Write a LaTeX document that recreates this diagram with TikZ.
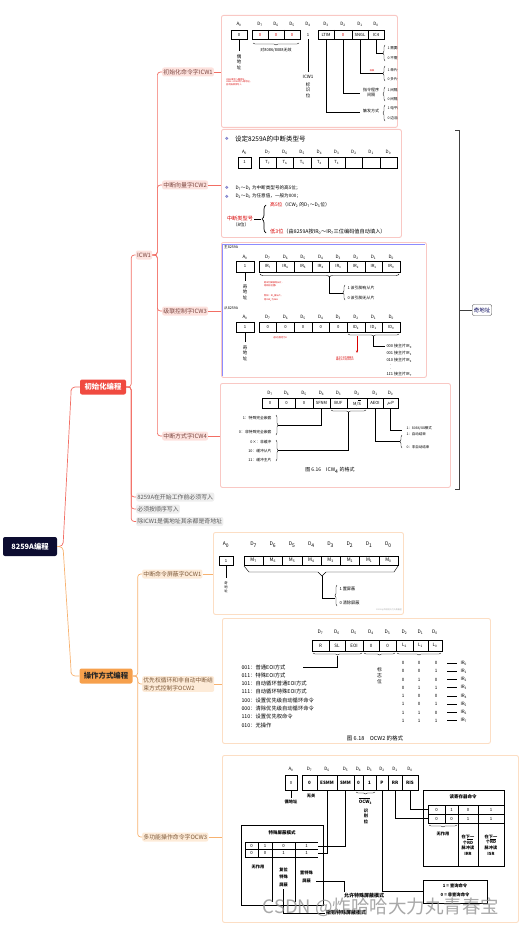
\documentclass[tikz,border=0pt]{standalone}
\usepackage{fontspec}
\setmainfont{Noto Sans CJK SC}
\newfontfamily\symfont{DejaVu Sans}
\usetikzlibrary{positioning,arrows.meta,decorations.pathreplacing}
\definecolor{cnavy}{RGB}{12,12,48}
\definecolor{cinit}{RGB}{240,74,64}
\definecolor{cop}{RGB}{246,160,76}
\definecolor{cline}{RGB}{242,110,100}
\definecolor{coline}{RGB}{247,178,112}
\definecolor{cpink}{RGB}{253,226,222}
\definecolor{cpeach}{RGB}{253,235,216}
\definecolor{cgrey}{RGB}{238,238,238}
\definecolor{cbrown}{RGB}{125,72,66}
\definecolor{cobrown}{RGB}{128,92,60}
\definecolor{cframe}{RGB}{249,200,196}
\definecolor{coframe}{RGB}{252,222,196}
\definecolor{cbullet}{RGB}{96,96,190}
\newcommand{\fsz}[2]{\fontsize{#1}{#2}\selectfont}
\newcommand{\Dn}[1]{D\textsubscript{#1}}
\newcommand{\An}{A\textsubscript{0}}
\newcommand{\MS}{M/$\overline{\mbox{S}}$}
\tikzset{
  rootnode/.style={rectangle,rounded corners=2pt,fill=cnavy,text=white,
    font=\fsz{7.3}{8}\bfseries,minimum width=54,minimum height=19,inner sep=1pt},
  mainnode/.style={rectangle,rounded corners=2pt,font=\fsz{7.4}{8}\bfseries,
    minimum height=15,inner sep=2pt},
  icwnode/.style={rectangle,rounded corners=2pt,fill=cpink,text=cbrown,
    font=\fsz{5.9}{8},inner sep=1.2pt,minimum height=9},
  ocwnode/.style={icwnode,fill=cpeach,text=cobrown,align=left},
  notenode/.style={icwnode,fill=cgrey,text=black!65},
  imgbox/.style={rectangle,rounded corners=2pt,draw=cframe,line width=0.9pt,
    fill=white,inner sep=0pt,anchor=north west},
  oimgbox/.style={imgbox,draw=coframe},
  rline/.style={draw=cline,line width=0.7pt},
  oline/.style={draw=coline,line width=0.7pt},
  hd/.style={font=\fsz{4.5}{5},inner sep=0pt},
  rg/.style={font=\fsz{4.2}{5},inner sep=0pt},
  tx/.style={font=\fsz{4}{5},inner sep=0.3pt},
  vt/.style={font=\fsz{4.5}{5.5},align=center,inner sep=0pt},
  rd/.style={text=red!85!black},
  symf/.style={font=\symfont\fsz{4.5}{5},text=cbullet,inner sep=0pt},
  redtiny/.style={font=\fsz{2.2}{2.7},align=left,text=red!85!black,inner sep=0pt},
  regl/.style={line width=0.45pt},
  thinl/.style={line width=0.4pt},
  brc/.style={decorate,decoration={brace,amplitude=2pt},line width=0.4pt},
  brcm/.style={decorate,decoration={brace,mirror,amplitude=2pt},line width=0.4pt}
}
\begin{document}
\begin{tikzpicture}[x=1pt,y=-1pt]
\useasboundingbox (0,0) rectangle (522,925);
% mind map nodes
\node[rootnode] (root) at (30,546.5) {8259A编程};
\node[mainnode,fill=cinit,text=white,minimum width=46] (init) at (103,387) {初始化编程};
\node[mainnode,fill=cop,text=black!85,minimum width=53] (oper) at (106,676) {操作方式编程};
\draw[rline,rounded corners=4] (root.east) -- (63,546.5) -- (71,394) |- (init.west);
\draw[oline,rounded corners=4] (root.east) -- (63,546.5) -- (71,669) |- (oper.west);

\node[icwnode] (icw) at (144,255) {ICW1};
\node[notenode,anchor=west] (must) at (136,497) {8259A在开始工作前必须写入};
\node[notenode,anchor=west] (order) at (136,509) {必须按顺序写入};
\node[notenode,anchor=west] (addr) at (136,521.5) {除ICW1是偶地址其余都是奇地址};
\foreach \c in {icw,must,order,addr}
  \draw[rline,rounded corners=3] (init.east) -- ++(5,0) |- (\c.west);

\node[icwnode,anchor=west] (cw1) at (162,72) {初始化命令字ICW1};
\node[icwnode,anchor=west] (cw2) at (162,185) {中断向量字ICW2};
\node[icwnode,anchor=west] (cw3) at (162,311) {级联控制字ICW3};
\node[icwnode,anchor=west] (cw4) at (162,436) {中断方式字ICW4};
\foreach \c in {cw1,cw2,cw3,cw4}
  \draw[rline,rounded corners=3] (icw.east) -- ++(5,0) |- (\c.west);

\node[ocwnode,anchor=west] (ow1) at (142,574) {中断命令屏蔽字OCW1};
\node[ocwnode,anchor=west,font=\fsz{5.8}{8}] (ow2) at (142,684) {优先权循环和非自动中断结\\束方式控制字OCW2};
\node[ocwnode,anchor=west] (ow3) at (142,837) {多功能操作命令字OCW3};
\foreach \c in {ow1,ow2,ow3}
  \draw[oline,rounded corners=3] (oper.east) -- ++(5,0) |- (\c.west);

% picture frames
\node[imgbox,minimum width=176,minimum height=112] (pic1) at (221,15) {};
\node[imgbox,minimum width=180,minimum height=108] (pic2) at (221,129) {};
\node[imgbox,minimum width=205,minimum height=135] (pic3) at (221,242) {};
\node[imgbox,minimum width=230,minimum height=104] (pic4) at (220,383) {};
\node[oimgbox,minimum width=190,minimum height=82] (pic5) at (213,532) {};
\node[oimgbox,minimum width=268,minimum height=125] (pic6) at (222,618) {};
\node[oimgbox,minimum width=296,minimum height=167] (pic7) at (222,755) {};
\foreach \c/\p in {cw1/pic1,cw2/pic2,cw3/pic3,cw4/pic4}
  \draw[rline] (\c.east) -- (\c.east -| \p.west);
\foreach \c/\p in {ow1/pic5,ow2/pic6,ow3/pic7}
  \draw[oline] (\c.east) -- (\c.east -| \p.west);

% summary bracket
\node[draw=black!65,rounded corners=2pt,fill=white,font=\fsz{5.5}{6},text=blue!35!black,
  inner sep=1.5pt,minimum height=11] (odd) at (482,310) {奇地址};
\coordinate (sumtop) at (459,130);
\coordinate (sumbot) at (459,489);
\draw[line width=0.8pt,black!75] (sumtop) ++(-4,0) -- (sumtop) -- (sumbot) -- ++(-4,0);
\draw[line width=0.8pt,black!75] (sumtop |- odd.west) -- (odd.west);

% ICW1 format
\begin{scope}
\clip[rounded corners=2pt] (221,15) rectangle (397,127);
\node[hd] at (239,24) {\An};
\foreach \i/\x in {7/260,6/276,5/292,4/308,3/326,2/343,1/360,0/376}
  \node[hd] at (\x,24) {\Dn{\i}};
\draw[regl] (231,30) rectangle (247,39.5);
\node[rg] at (239,34.8) {0};
\draw[regl] (252,30) rectangle (300,39.5) (268,30) -- (268,39.5) (284,30) -- (284,39.5);
\draw[regl] (318,30) rectangle (384,39.5) (334,30) -- (334,39.5) (352,30) -- (352,39.5) (368,30) -- (368,39.5);
\foreach \x in {260,276,292,343} \node[rg,rd] at (\x,34.8) {0};
\foreach \t/\x in {1/308,LTIM/326,SNGL/360,IC4/376} \node[rg] at (\x,34.8) {\t};
\draw[brcm] (253,43) -- (299,43);
\node[tx] at (276,50) {对8086/8088无效};
\draw[thinl] (239,39.5) -- (239,51);
\node[vt] at (239,62) {偶\\地\\址};
\node[redtiny,anchor=west] at (226,82) {ICW1需写入偶地址，\\ICW2～ICW4写入奇地址，\\且须按顺序写入};
\draw[thinl] (308,39.5) -- (308,72);
\node[hd] at (308,77) {ICW1};
\node[vt] at (308,90) {标\\识\\位};
\draw[thinl] (326,39.5) |- (360,112);
\node[tx] at (371,111) {触发方式};
\draw[thinl] (343,39.5) |- (360,93);
\node[tx,align=center] at (371,92) {指令程序\\间隔};
\draw[thinl] (360,39.5) |- (383,73);
\node[redtiny] at (372,70.5) {级联};
\draw[thinl] (376,39.5) |- (383,53);
\foreach \ya/\yb in {45/61,66/81,87/101,105/121}
  \draw[brc] (385,\yb) -- (385,\ya);
\foreach \t/\y in {{1\ 需要ICW4}/48,{0\ 不需要ICW4}/58,{1\ 单片使用}/70,{0\ 多片使用}/79,
  {1\ 间隔为4}/90,{0\ 间隔为8}/99,{1\ 电平触发}/108,{0\ 边沿触发}/118}
  \node[tx,anchor=west,font=\fsz{3.6}{4}] at (387,\y) {\t};
\end{scope}

% ICW2 format
\begin{scope}
\clip[rounded corners=2pt] (221,129) rectangle (401,237);
\node[symf] at (227,139) {❖};
\node[anchor=west,inner sep=0,font=\fsz{6.5}{7}] at (235,139) {设定8259A的中断类型号};
\node[hd] at (244.5,152) {\An};
\foreach \i [evaluate=\i as \x using {259+17.25*(7.5-\i)}] in {7,6,...,0}
  \node[hd] at (\x,152) {\Dn{\i}};
\draw[regl] (238,157) rectangle (251,168);
\node[rg] at (244.5,162.5) {1};
\draw[regl] (259,157) rectangle (397,168);
\foreach \k in {1,...,7} \draw[regl] ({259+17.25*\k},157) -- ({259+17.25*\k},168);
\foreach \i [evaluate=\i as \x using {259+17.25*(7.5-\i)}] in {7,6,5,4,3}
  \node[rg] at (\x,162.5) {T\textsubscript{\i}};
\node[symf] at (227,188) {❖};
\node[symf] at (227,196.5) {❖};
\node[tx,anchor=west,font=\fsz{4.6}{5}] at (235,188) {\Dn{7}～\Dn{3} 为中断类型号的高5位；};
\node[tx,anchor=west,font=\fsz{4.6}{5}] at (235,196.5) {\Dn{2}～\Dn{0} 为任意值，一般为000；};
\node[font=\fsz{5.2}{6},text=red!85!black,inner sep=0] at (240,219) {中断类型号};
\node[font=\fsz{4.5}{5},inner sep=0] at (241,225) {（8位）};
\draw[thinl] (254,219) -- (261,219);
\draw[brc,line width=0.7pt,decoration={brace,amplitude=4pt}] (266,233) -- (266,205);
\node[anchor=west,font=\fsz{4.8}{6},inner sep=0] at (270,205)
  {\textcolor{red!85!black}{高5位}（ICW\textsubscript{2} 的\Dn{7}～\Dn{3}位）};
\node[anchor=west,font=\fsz{5.2}{6},inner sep=0] at (270,232)
  {\textcolor{red!85!black}{低3位}（由8259A按IR\textsubscript{0}～IR\textsubscript{7}三位编码值自动填入）};
\end{scope}

% ICW3 format
\begin{scope}
\clip[rounded corners=2pt] (221,242) rectangle (426,377);
\draw[blue!45,line width=0.6pt] (222,376) -- (222,244) -- (425,244);
\node[anchor=west,inner sep=0,font=\fsz{3.6}{4}] at (224,247.5) {主8259A};
\node[anchor=west,inner sep=0,font=\fsz{3.6}{4}] at (224,308) {从8259A};
\foreach \y in {257,317} {
  \node[hd] at (245,\y) {\An};
  \foreach \i [evaluate=\i as \x using {259+17.625*(7.5-\i)}] in {7,6,...,0}
    \node[hd] at (\x,\y) {\Dn{\i}};
}
\draw[regl] (236,261) rectangle (254,272) (236,322) rectangle (254,332);
\node[rg] at (245,266.5) {1};
\node[rg] at (245,327) {1};
\draw[regl] (259,261) rectangle (400,272) (259,322) rectangle (400,332);
\foreach \k in {1,...,7}
  \draw[regl] ({259+17.625*\k},261) -- ({259+17.625*\k},272) ({259+17.625*\k},322) -- ({259+17.625*\k},332);
\foreach \i [evaluate=\i as \x using {259+17.625*(7.5-\i)}] in {7,6,...,0}
  \node[rg] at (\x,266.5) {IR\textsubscript{\i}};
\foreach \i [evaluate=\i as \x using {259+17.625*(7.5-\i)}] in {7,6,5,4,3}
  \node[rg] at (\x,327) {0};
\foreach \i [evaluate=\i as \x using {259+17.625*(7.5-\i)}] in {2,1,0}
  \node[rg] at (\x,327) {ID\textsubscript{\i}};
\draw[brcm,decoration={brace,mirror,amplitude=3pt}] (260,274) -- (399,274);
\draw[thinl] (329.5,277) |- (343,293);
\draw[brc] (345,300) -- (345,285);
\node[tx,anchor=west] at (347,287.5) {1\ 该引脚有从片};
\node[tx,anchor=west] at (347,298) {0\ 该引脚无从片};
\node[redtiny,anchor=west] at (264,284.5) {若IR引脚接有从片，\\则相应位置1};
\node[redtiny,anchor=west] at (264,298) {例如：IR\textsubscript{3}接从片，\\则ICW\textsubscript{3}为08H};
\draw[thinl] (245,272) -- (245,281);
\node[vt] at (245,292) {奇\\地\\址};
\draw[brcm] (348,334) -- (399,334);
\draw[thinl] (373.5,336) |- (385,346);
\foreach \t/\y in {{000\ 接主片IR\textsubscript{0}}/346,{001\ 接主片IR\textsubscript{1}}/353,
  {010\ 接主片IR\textsubscript{2}}/360,{111\ 接主片IR\textsubscript{7}}/374.5}
  \node[tx,anchor=west] at (386,\y) {\t};
\node[tx] at (391,366.5) {$\vdots$};
\draw[red!85!black,thinl,-{Stealth[length=2.5pt,width=2pt]}] (357,336) -- (357,353);
\node[redtiny,anchor=north west] at (336,356) {由主片IR引脚编号\\确定从片标识码ID};
\node[redtiny] at (280,338) {这5位固定为0};
\draw[thinl] (245,332) -- (245,342);
\node[vt] at (245,353) {奇\\地\\址};
\end{scope}

% ICW4 format
\begin{scope}
\clip[rounded corners=2pt] (220,383) rectangle (450,487);
\foreach \i/\x in {7/270,6/286.5,5/304,4/321.5,3/338.5,2/357,1/375,0/390.5}
  \node[hd] at (\x,393) {\Dn{\i}};
\draw[regl] (262,398) rectangle (398,408);
\foreach \x in {278,295,313,330,347,367,383} \draw[regl] (\x,398) -- (\x,408);
\foreach \t/\x in {0/270,0/286.5,0/304,SFNM/321.5,BUF/338.5,{\MS}/357,AEOI/375,{$\mu$P}/390.5}
  \node[rg] at (\x,403) {\t};
\draw[brcm] (331,410) -- (366,410);
\draw[thinl] (321.5,408) |- (278,425);
\draw[thinl] (348.5,412) |- (278,450);
\draw[brc] (276,415) -- (276,435);
\draw[brc] (276,440) -- (276,461);
\foreach \t/\y in {{1：特殊完全嵌套}/418,{0：非特殊完全嵌套}/432,{0×：非缓冲}/442,
  {10：缓冲从片}/451,{11：缓冲主片}/460}
  \node[tx,anchor=east,font=\fsz{3.8}{4}] at (272,\y) {\t};
\draw[thinl] (390.5,408) |- (402,430);
\draw[thinl] (375,408) |- (400,441);
\draw[brc] (402,448) -- (402,435);
\node[tx,anchor=west,font=\fsz{3.5}{4}] at (406,428) {1：8086/88模式};
\node[tx,anchor=west,font=\fsz{3.5}{4}] at (406,434) {1：自动结束};
\node[tx,anchor=west,font=\fsz{3.5}{4}] at (406,447) {0：非自动结束};
\node[font=\fsz{5}{6},inner sep=0] at (330,470) {图 6.16\quad ICW\textsubscript{4} 的格式};
\end{scope}

% OCW1 format
\begin{scope}
\clip[rounded corners=2pt] (213,532) rectangle (403,614);
\node[hd,font=\fsz{5}{6}] at (226,545) {\An};
\foreach \i [evaluate=\i as \x using {244+19.25*(7.5-\i)}] in {7,6,...,0}
  \node[hd,font=\fsz{5}{6}] at (\x,545) {\Dn{\i}};
\draw[regl] (219,556) rectangle (233,565);
\node[rg] at (226,560.5) {1};
\draw[regl] (244,556) rectangle (398,565);
\foreach \k in {1,...,7} \draw[regl] ({244+19.25*\k},556) -- ({244+19.25*\k},565);
\foreach \i [evaluate=\i as \x using {244+19.25*(7.5-\i)}] in {7,6,...,0}
  \node[rg,font=\fsz{4.8}{5}] at (\x,560.5) {M\textsubscript{\i}};
\draw[thinl] (244,566) -- (249,572) -- (318,572) -- (322,576) -- (326,572) -- (394,572) -- (398,566);
\draw[thinl] (322,576) |- (335,598);
\draw[brc] (337,606) -- (337,585);
\node[tx,anchor=west,font=\fsz{4.2}{5}] at (339,589) {1\ 置屏蔽};
\node[tx,anchor=west,font=\fsz{4.2}{5}] at (339,603) {0\ 清除屏蔽};
\draw[thinl] (226,565) -- (226,578);
\node[vt,font=\fsz{3.4}{4.3}] at (226,587) {奇\\地\\址};
\node[font=\fsz{2}{2.4},text=black!35,inner sep=0] at (389,610) {CSDN @炸哈哈大力丸青春宝};
\end{scope}

% OCW2 format
\begin{scope}
\clip[rounded corners=2pt] (222,618) rectangle (490,743);
\foreach \i/\x in {7/320.5,6/337,5/354,4/371,3/387.5,2/404.5,1/420.5,0/435}
  \node[hd,font=\fsz{4.8}{5}] at (\x,632) {\Dn{\i}};
\draw[regl] (312,640) rectangle (442,651);
\foreach \x in {329,345,363,379,396,413,428} \draw[regl] (\x,640) -- (\x,651);
\foreach \t/\x in {R/320.5,SL/337,EOI/354,0/371,0/387.5,L\textsubscript{2}/404.5,L\textsubscript{1}/420.5,L\textsubscript{0}/435}
  \node[rg,font=\fsz{4.5}{5}] at (\x,645.5) {\t};
\draw[brcm] (313,653) -- (362,653);
\draw[brcm] (364,653) -- (395,653);
\draw[brcm] (397,653) -- (441,653);
\draw[thinl] (337.5,655.5) |- (303,667);
\node[vt,font=\fsz{4.8}{6}] at (379.5,676) {标\\志\\位};
\foreach \t/\y in {{001：普通EOI方式}/667,{011：特殊EOI方式}/675.3,{101：自动循环普通EOI方式}/683.6,
  {111：自动循环特殊EOI方式}/691.9,{100：设置优先级自动循环命令}/700.2,
  {000：清除优先级自动循环命令}/708.5,{110：设置优先权命令}/716.8,{010：无操作}/725.1}
  \node[tx,anchor=west,font=\fsz{5.3}{6}] at (241,\y) {\t};
\foreach \r in {0,...,7} {
  \pgfmathsetmacro\yy{663+8.25*\r}
  \pgfmathtruncatemacro\bta{floor(\r/4)}
  \pgfmathtruncatemacro\btb{mod(floor(\r/2),2)}
  \pgfmathtruncatemacro\btc{mod(\r,2)}
  \node[tx,font=\fsz{4.5}{5}] at (403,\yy) {\bta};
  \node[tx,font=\fsz{4.5}{5}] at (419,\yy) {\btb};
  \node[tx,font=\fsz{4.5}{5}] at (436,\yy) {\btc};
  \draw[line width=0.6pt] (447,\yy) -- (457,\yy);
  \node[tx,anchor=west,font=\fsz{4.5}{5}] at (460,\yy) {IR\textsubscript{\r}};
}
\node[font=\fsz{5.5}{6},inner sep=0] at (375,738) {图 6.18\quad OCW2 的格式};
\end{scope}

% OCW3 format
\begin{scope}
\clip[rounded corners=2pt] (222,755) rectangle (518,922);
\node[hd] at (291,769) {\An};
\foreach \i/\x in {7/309.5,6/327,5/345.5,4/358.5,3/369.5,2/382,1/395,0/410}
  \node[hd] at (\x,769) {\Dn{\i}};
\draw[regl,line width=0.7pt] (285,775) rectangle (297,790);
\node[rg] at (291,782.5) {0};
\draw[regl,line width=0.7pt] (302,775) rectangle (418,790);
\foreach \x in {317,337,354,363,376,388,402} \draw[regl,line width=0.7pt] (\x,775) -- (\x,790);
\foreach \t/\x in {0/309.5,ESMM/327,SMM/345.5,0/358.5,1/369.5,P/382,RR/395,RIS/410}
  \node[rg,font=\fsz{4.5}{5}\bfseries] at (\x,782.5) {\t};
\node[tx,font=\fsz{4.2}{5}\bfseries] at (311,796) {无关};
\draw[thinl] (291,790) -- (291,798);
\node[tx,font=\fsz{4.2}{5}\bfseries] at (291,802) {偶地址};
\draw[brcm] (356,792) -- (375,792);
\node[hd,font=\fsz{4.5}{5}\bfseries] at (365.5,801) {$\overline{\mbox{OCW}}$\textsubscript{3}};
\node[vt,font=\fsz{4.2}{5.5}\bfseries] at (366,816) {识\\别\\位};
% read register box
\draw[line width=0.6pt] (423,790) rectangle (504,866);
\node[tx,font=\fsz{4.5}{5}\bfseries] at (463,797) {读寄存器命令};
\draw[thinl] (428,805) -- (504,805) (428,814) -- (504,814) (428,823) -- (504,823)
  (428,805) -- (428,823) (445,805) -- (445,823) (458,805) -- (458,866) (478,805) -- (478,866);
\foreach \t/\x in {0/436.5,1/451.5,0/468,1/491} \node[tx,font=\fsz{4.3}{5}] at (\x,809.5) {\t};
\foreach \t/\x in {0/436.5,0/451.5,1/468,1/491} \node[tx,font=\fsz{4.3}{5}] at (\x,818.5) {\t};
\draw[brcm] (429,825) -- (457,825);
\node[tx,font=\fsz{4.2}{5}\bfseries] at (443,834) {无作用};
\node[vt,font=\fsz{4.2}{5.6}\bfseries] at (468,845) {在下一\\个$\overline{\mbox{RD}}$\\脉冲读\\IRR};
\node[vt,font=\fsz{4.2}{5.6}\bfseries] at (491,845) {在下一\\个$\overline{\mbox{RD}}$\\脉冲读\\ISR};
\draw[thinl] (410,790) |- (428,809.5);
\draw[thinl] (395,790) |- (428,818.5);
% poll box
\draw[thinl] (382,790) |- (423,891);
\draw[line width=0.6pt] (423,880) rectangle (487,903);
\node[tx,font=\fsz{4.3}{5}\bfseries] at (455,886) {1 = 查询命令};
\node[tx,font=\fsz{4.3}{5}\bfseries] at (455,895) {0 = 非查询命令};
% special mask box
\draw[line width=0.6pt] (241,825) rectangle (323,905);
\node[tx,font=\fsz{4.5}{5}\bfseries] at (282,833) {特殊屏蔽模式};
\draw[thinl] (245,842) -- (318,842) (245,849.5) -- (318,849.5) (245,857) -- (318,857)
  (245,842) -- (245,857) (258,842) -- (258,857) (272,842) -- (272,902) (295,842) -- (295,902);
\foreach \t/\x in {0/251.5,1/265,0/283.5,1/306.5} \node[tx,font=\fsz{4.3}{5}] at (\x,845.7) {\t};
\foreach \t/\x in {0/251.5,0/265,1/283.5,1/306.5} \node[tx,font=\fsz{4.3}{5}] at (\x,853.3) {\t};
\draw[thinl] (345.5,790) |- (318,845.7);
\draw[thinl] (327,790) |- (318,853.3);
\node[tx,font=\fsz{4.2}{5}\bfseries] at (258,867) {无作用};
\node[vt,font=\fsz{4.2}{7.5}\bfseries] at (283.5,877) {复位\\特殊\\屏蔽};
\node[vt,font=\fsz{4.2}{8}\bfseries] at (306.5,877) {置特殊\\屏蔽};
\draw[thinl] (316,881) -| (344,892);
\draw[thinl] (283.5,889) |- (325,913);
\node[tx,font=\fsz{5}{6}\bfseries] at (364,896) {允许特殊屏蔽模式};
\node[tx,font=\fsz{5}{6}\bfseries] at (346,913) {撤销特殊屏蔽模式};
\end{scope}
\node[font=\fsz{18.5}{20},text=black!45,opacity=0.75,inner sep=0] (mark) at (381,907) {CSDN @炸哈哈大力丸青春宝};
\end{tikzpicture}
\end{document}
